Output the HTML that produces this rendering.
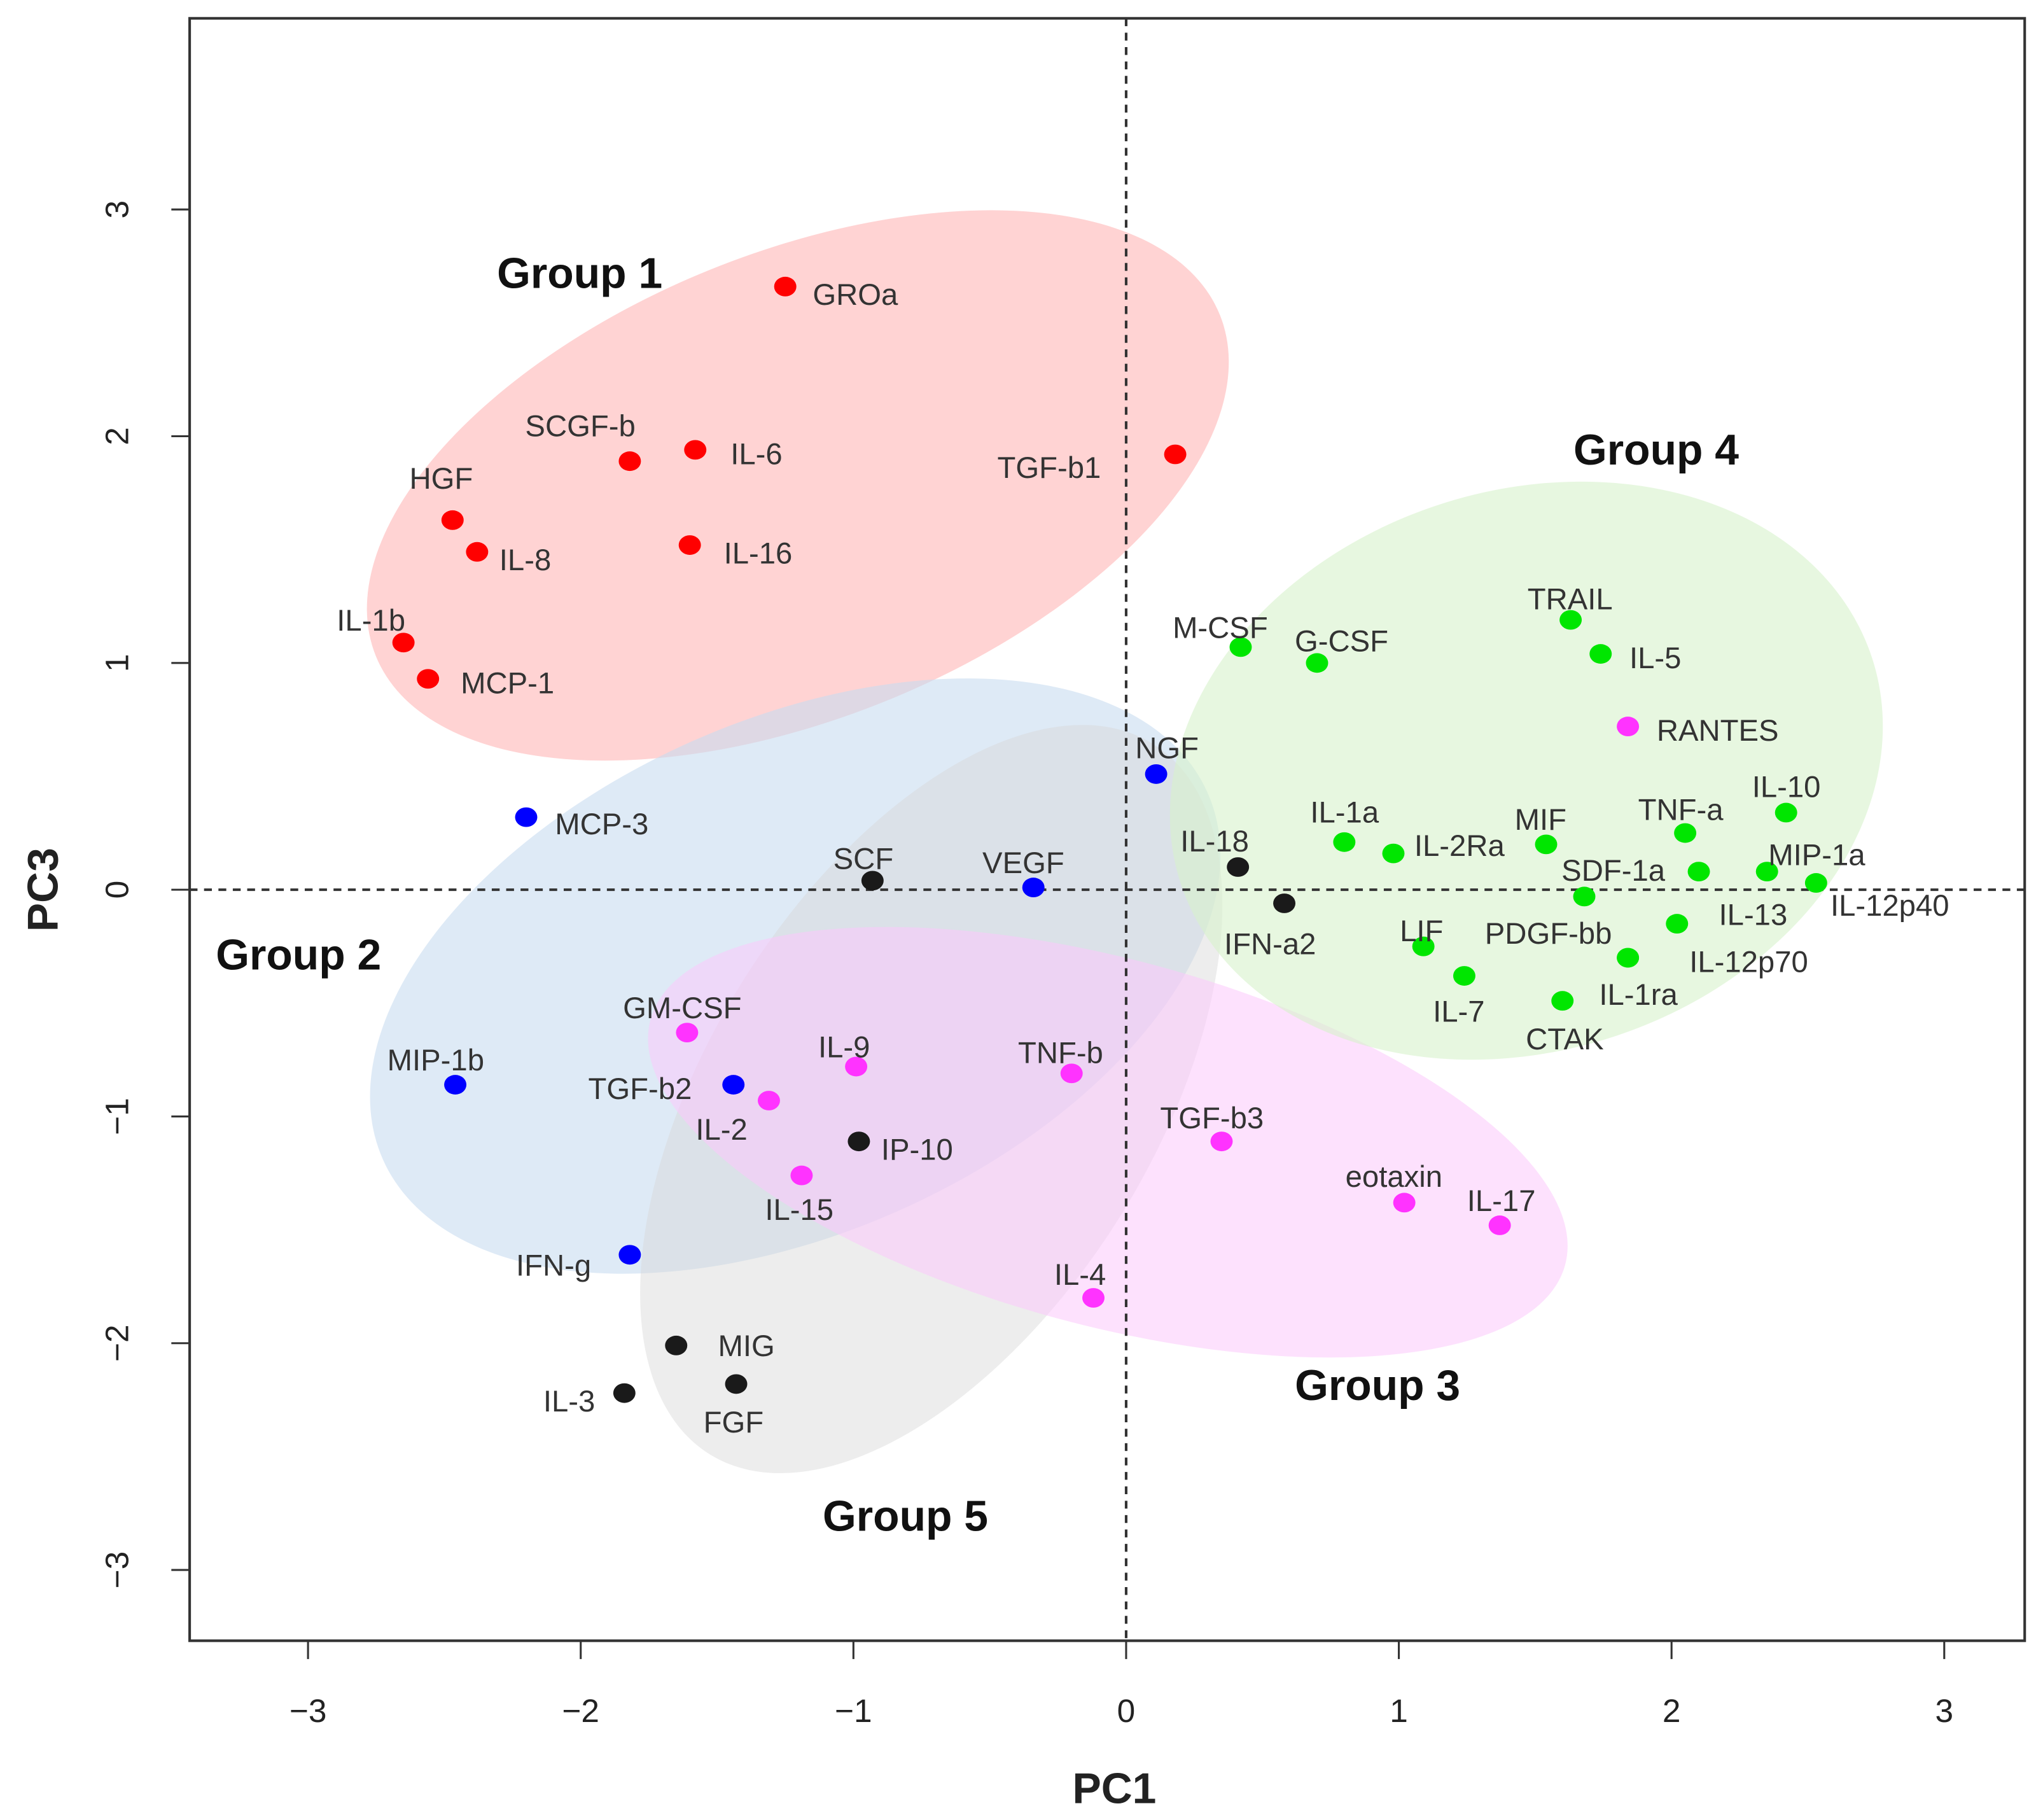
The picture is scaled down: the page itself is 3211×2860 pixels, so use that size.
<!DOCTYPE html>
<html><head><meta charset="utf-8"><style>
html,body{margin:0;padding:0;background:#fff;}
svg{display:block;}
text{font-family:"Liberation Sans",sans-serif;}
</style></head><body>
<svg id="chart" width="3211" height="2860" viewBox="0 0 1562 1391" preserveAspectRatio="none" xmlns="http://www.w3.org/2000/svg">
<g id="ell"></g>
<g id="axes"></g>
<g id="pts"></g>
<g id="labs"></g>
</svg>
<script>
const names = ["GROa","SCGF-b","IL-6","TGF-b1","HGF","IL-8","IL-16","IL-1b","MCP-1",
"MCP-3","NGF","VEGF","MIP-1b","TGF-b2","IFN-g",
"SCF","IL-18","IFN-a2","IP-10","MIG","FGF","IL-3",
"RANTES","GM-CSF","IL-9","IL-2","TNF-b","IL-15","TGF-b3","eotaxin","IL-17","IL-4",
"M-CSF","G-CSF","TRAIL","IL-5","IL-1a","IL-2Ra","MIF","TNF-a","IL-10","MIP-1a","SDF-1a","IL-12p40","PDGF-bb","IL-13","LIF","IL-12p70","IL-7","IL-1ra","CTAK"];
const pc1 = [-1.25,-1.82,-1.58,0.18,-2.47,-2.38,-1.60,-2.65,-2.56,
-2.20,0.11,-0.34,-2.46,-1.44,-1.82,
-0.93,0.41,0.58,-0.98,-1.65,-1.43,-1.84,
1.84,-1.61,-0.99,-1.31,-0.20,-1.19,0.35,1.02,1.37,-0.12,
0.42,0.70,1.63,1.74,0.80,0.98,1.54,2.05,2.42,2.35,2.10,2.53,1.68,2.02,1.09,1.84,1.24,1.84,1.60];
const pc3 = [2.66,1.89,1.94,1.92,1.63,1.49,1.52,1.09,0.93,
0.32,0.51,0.01,-0.86,-0.86,-1.61,
0.04,0.10,-0.06,-1.11,-2.01,-2.18,-2.22,
0.72,-0.63,-0.78,-0.93,-0.81,-1.26,-1.11,-1.38,-1.48,-1.80,
1.07,1.00,1.19,1.04,0.21,0.16,0.20,0.25,0.34,0.08,0.08,0.03,-0.03,-0.15,-0.25,-0.30,-0.38,-0.30,-0.49];
const groups = [1,1,1,1,1,1,1,1,1, 2,2,2,2,2,2, 5,5,5,5,5,5,5, 3,3,3,3,3,3,3,3,3,3,
4,4,4,4,4,4,4,4,4,4,4,4,4,4,4,4,4,4,4];
const xTicks = [-3,-2,-1,0,1,2,3];
const yTicks = [-3,-2,-1,0,1,2,3];

const NS="http://www.w3.org/2000/svg";
const X=v=>861+v*208.5, Y=v=>680-v*173.3;
const colors={1:"#ff0000",2:"#0000ff",3:"#ff33ff",4:"#00e600",5:"#1a1a1a"};
const off={"GROa":[21,14],"SCGF-b":[-80,-19],"IL-6":[27,11],"TGF-b1":[-136,18],"HGF":[-33,-24],"IL-8":[17,14],"IL-16":[26,14],"IL-1b":[-51,-9],"MCP-1":[25,11],
"MCP-3":[22,13],"NGF":[-16,-12],"VEGF":[-39,-11],"MIP-1b":[-52,-11],"TGF-b2":[-111,11],"IFN-g":[-87,16],
"SCF":[-30,-9],"IL-18":[-44,-12],"IFN-a2":[-46,39],"IP-10":[17,14],"MIG":[32,8],"FGF":[-25,37],"IL-3":[-62,14],
"RANTES":[22,11],"GM-CSF":[-49,-11],"IL-9":[-29,-7],"IL-2":[-56,30],"TNF-b":[-41,-8],"IL-15":[-28,34],"TGF-b3":[-47,-10],"eotaxin":[-45,-12],"IL-17":[-25,-11],"IL-4":[-30,-10],
"M-CSF":[-52,-7],"G-CSF":[-17,-9],"TRAIL":[-33,-8],"IL-5":[22,11],"IL-1a":[-26,-15],"IL-2Ra":[16,2],"MIF":[-24,-11],"TNF-a":[-36,-10],"IL-10":[-26,-12],"MIP-1a":[1,-5],"SDF-1a":[-105,7],"IL-12p40":[11,25],"PDGF-bb":[-76,36],"IL-13":[32,1],"LIF":[-18,-4],"IL-12p70":[47,11],"IL-7":[-24,35],"IL-1ra":[-22,36],"CTAK":[-28,37]};
function mk(tag,attrs,parent){const e=document.createElementNS(NS,tag);for(const k in attrs)e.setAttribute(k,attrs[k]);parent.appendChild(e);return e;}

// ellipses
const ell=document.getElementById('ell');
const E=[["group-1-ellipse",610,371,348,178,-22,"#ffc4c4",0.75],
["group-2-ellipse",608,746,345,196,-24,"#c8dcf0",0.6],
["group-5-ellipse",712,840,320,170,-58,"#d8d8d8",0.45],
["group-3-ellipse",847,873,362,140,15,"#fbc8fb",0.55],
["group-4-ellipse",1167,589,278,214,-18,"#d7f2cc",0.6]];
E.forEach(e=>{const el=mk('ellipse',{cx:e[1],cy:e[2],rx:e[3],ry:e[4],transform:`rotate(${e[5]} ${e[1]} ${e[2]})`,fill:e[6],'fill-opacity':e[7]},ell);

});

// axes
const ax=document.getElementById('axes');
const box=mk('rect',{x:145,y:14,width:1403,height:1240,fill:'none',stroke:'#333','stroke-width':2},ax);

const vl=mk('line',{x1:X(0),x2:X(0),y1:14,y2:1254,stroke:'#333','stroke-width':2,'stroke-dasharray':'6,5'},ax);

const hl=mk('line',{x1:145,x2:1548,y1:Y(0),y2:Y(0),stroke:'#333','stroke-width':2,'stroke-dasharray':'6,5'},ax);

xTicks.forEach(t=>{const l=mk('line',{x1:X(t),x2:X(t),y1:1254,y2:1268,stroke:'#333','stroke-width':1.5},ax);

const tx=mk('text',{x:X(t),y:1316,'text-anchor':'middle','font-size':25,fill:'#222'},ax);tx.textContent=t<0?'\u2212'+(-t):String(t);
});
yTicks.forEach(t=>{const l=mk('line',{x1:131,x2:145,y1:Y(t),y2:Y(t),stroke:'#333','stroke-width':1.5},ax);

const tx=mk('text',{x:98,y:Y(t),'text-anchor':'middle','font-size':25,fill:'#222',transform:`rotate(-90 98 ${Y(t)})`},ax);tx.textContent=t<0?'\u2212'+(-t):String(t);
});
const xt=mk('text',{x:852,y:1378,'text-anchor':'middle','font-size':33,'font-weight':'bold',fill:'#222'},ax);xt.textContent='PC1';

const yt=mk('text',{x:44,y:680,'text-anchor':'middle','font-size':33,'font-weight':'bold',fill:'#222',transform:'rotate(-90 44 680)'},ax);yt.textContent='PC3';

[["Group 1",380,220],["Group 4",1203,355],["Group 2",165,741],["Group 3",990,1070],["Group 5",629,1170]].forEach(g=>{
const t=mk('text',{x:g[1],y:g[2],'font-size':33,'font-weight':'bold',fill:'#111'},ax);t.textContent=g[0];
});

// points & labels
const pts=document.getElementById('pts'),labs=document.getElementById('labs');
names.forEach((n,i)=>{const cx=X(pc1[i]),cy=Y(pc3[i]);
const c=mk('ellipse',{cx:cx,cy:cy,rx:8.5,ry:7.5,fill:colors[groups[i]]},pts);


const o=off[n]||[12,5];
const t=mk('text',{x:cx+o[0],y:cy+o[1],'font-size':23,fill:'#333'},labs);t.textContent=n;

});
</script>
</body></html>
